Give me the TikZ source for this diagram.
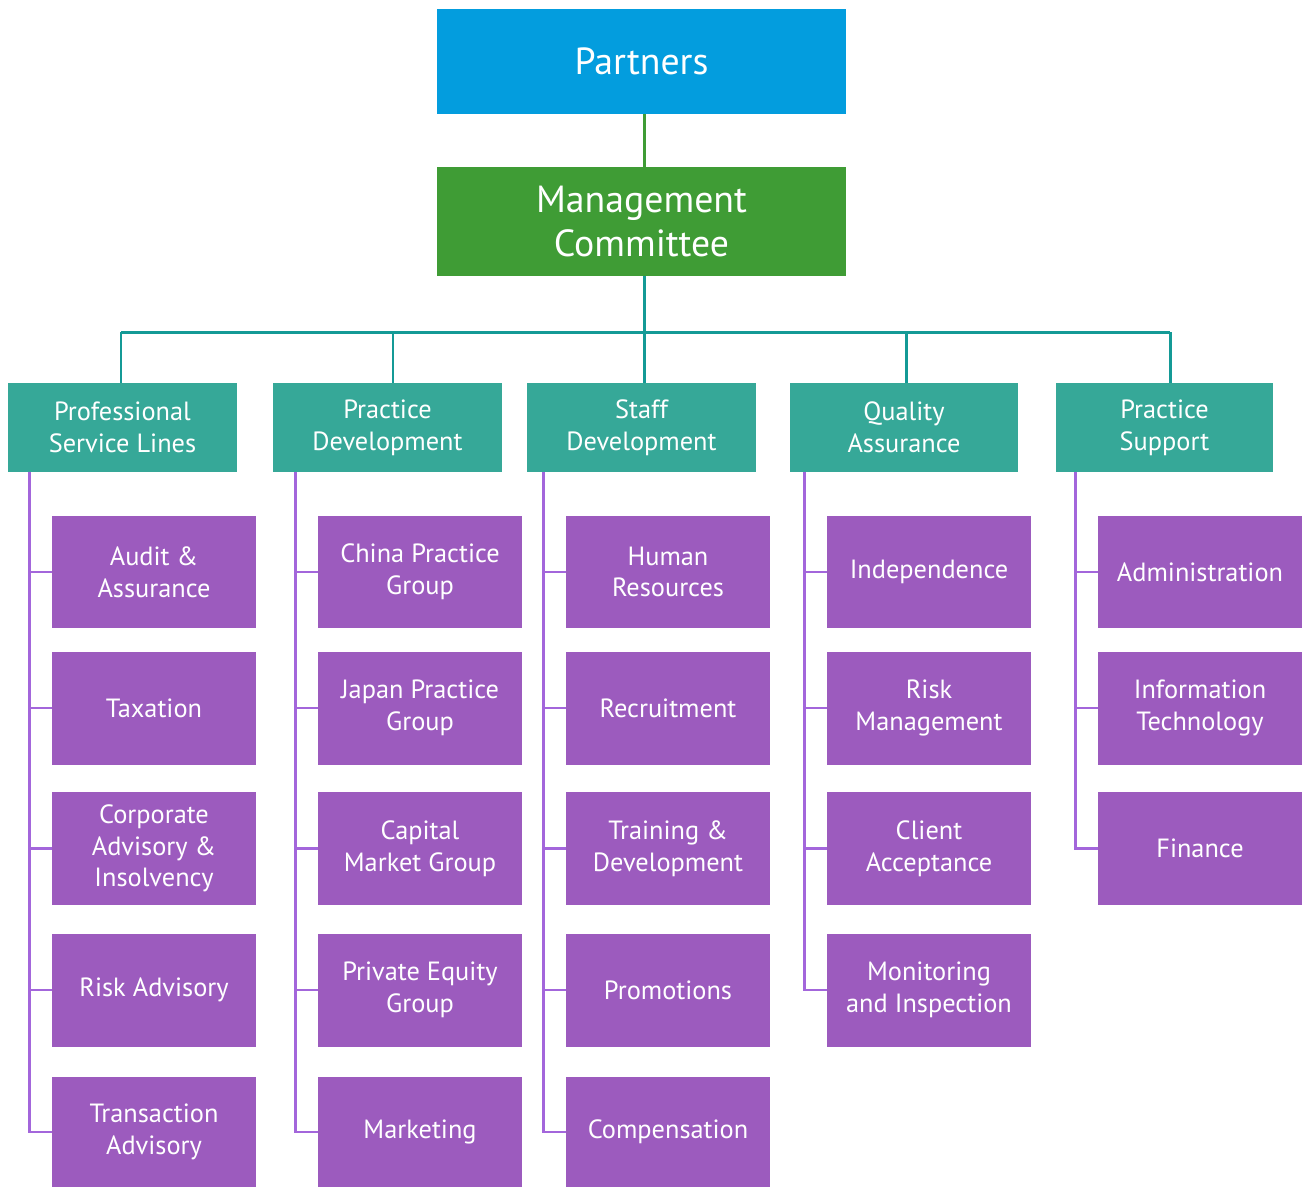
\documentclass[tikz,border=0pt]{standalone}
\usepackage{fontspec}
\setmainfont{PT Sans}
\usepackage{xcolor}
\usetikzlibrary{positioning, calc}

\definecolor{partnerblue}{RGB}{3,157,222}
\definecolor{mgmtgreen}{RGB}{63,156,53}
\definecolor{headteal}{RGB}{54,168,152}
\definecolor{busteal}{RGB}{20,154,150}
\definecolor{unitpurple}{RGB}{156,91,190}
\definecolor{branchpurple}{RGB}{163,102,219}

\begin{document}
\begin{tikzpicture}[x=0.02cm, y=-0.02cm,
    topbox/.style={draw=none, text=white, align=center, inner sep=0pt,
        minimum width=8.18cm, font=\fontsize{21.5}{24.5}\selectfont},
    headbox/.style={fill=headteal, text=white, align=center, inner sep=0pt,
        minimum width=4.58cm, minimum height=1.78cm, font=\fontsize{15}{18}\selectfont},
    unitbox/.style={fill=unitpurple, text=white, align=center, inner sep=0pt,
        minimum width=4.08cm, minimum height=2.26cm, font=\fontsize{15}{18}\selectfont},
    busline/.style={draw=busteal, line width=1.7pt},
    branch/.style={draw=branchpurple, line width=1.6pt}]
    \useasboundingbox (0,0) rectangle (1302,1187);

    % Top of the chart
    \node[topbox, fill=partnerblue, minimum height=2.1cm] (partners) at (641.5,61.5) {Partners};
    \node[topbox, fill=mgmtgreen, minimum height=2.18cm] (mgmt) at (641.5,221.5) {Management\\Committee};

    \draw[draw=mgmtgreen, line width=1.7pt] ($(partners.south)+(2.5,0)$) -- ($(mgmt.north)+(2.5,0)$);

    % Departments
    \node[headbox] (psl) at (122.5,427.5) {Professional\\Service Lines};
    \node[headbox] (pd) at (387.5,427.5) {Practice\\Development};
    \node[headbox] (sd) at (641.5,427.5) {Staff\\Development};
    \node[headbox] (qa) at (904,427.5) {Quality\\Assurance};
    \node[headbox, minimum width=4.34cm] (ps) at (1164.5,427.5) {Practice\\Support};

    % Bus from the committee
    \coordinate (bus) at (644,332);
    \draw[busline] (mgmt.south -| bus) -- (bus);
    \draw[busline] ($(psl.north |- bus)+(-1.5,0)$) -- ($(ps.north |- bus)+(5.5,0)$);
    \foreach \dept/\dx in {psl/-1.5,pd/5.5,sd/2.5,qa/2,ps/5.5}
        \draw[busline] ($(\dept.north |- bus)+(\dx,0)$) -- ($(\dept.north)+(\dx,0)$);

    % Units of each department
    \node[unitbox] (psl1) at (154,572) {Audit \&\\Assurance};
    \node[unitbox] (psl2) at (154,708) {Taxation};
    \node[unitbox] (psl3) at (154,848.5) {Corporate\\Advisory \&\\Insolvency};
    \node[unitbox] (psl4) at (154,990) {Risk Advisory};
    \node[unitbox, minimum height=2.2cm] (psl5) at (154,1132) {Transaction\\Advisory};

    \node[unitbox] (pd1) at (420,572) {China Practice\\Group};
    \node[unitbox] (pd2) at (420,708) {Japan Practice\\Group};
    \node[unitbox] (pd3) at (420,848.5) {Capital\\Market Group};
    \node[unitbox] (pd4) at (420,990) {Private Equity\\Group};
    \node[unitbox, minimum height=2.2cm] (pd5) at (420,1132) {Marketing};

    \node[unitbox] (sd1) at (668,572) {Human\\Resources};
    \node[unitbox] (sd2) at (668,708) {Recruitment};
    \node[unitbox] (sd3) at (668,848.5) {Training \&\\Development};
    \node[unitbox] (sd4) at (668,990) {Promotions};
    \node[unitbox, minimum height=2.2cm] (sd5) at (668,1132) {Compensation};

    \node[unitbox] (qa1) at (929,572) {Independence};
    \node[unitbox] (qa2) at (929,708) {Risk\\Management};
    \node[unitbox] (qa3) at (929,848.5) {Client\\Acceptance};
    \node[unitbox] (qa4) at (929,990) {Monitoring\\and Inspection};

    \node[unitbox] (ps1) at (1200,572) {Administration};
    \node[unitbox] (ps2) at (1200,708) {Information\\Technology};
    \node[unitbox] (ps3) at (1200,848.5) {Finance};

    % Branch lines
    \foreach \dept/\last in {psl/5,pd/5,sd/5,qa/4,ps/3} {
        \coordinate (\dept spine) at ($(\dept1.west)+(-22,0)$);
        \draw[branch] (\dept spine |- \dept.south) |- (\dept\last.west);
        \foreach \i in {1,...,\last}
            \draw[branch] (\dept\i.west) -- (\dept\i.west -| \dept spine);
    }
\end{tikzpicture}
\end{document}
